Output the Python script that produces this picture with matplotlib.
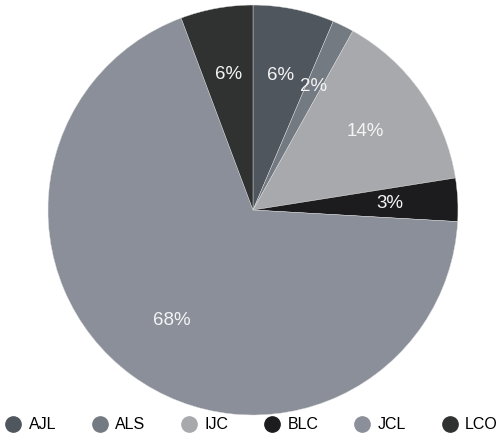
import matplotlib.pyplot as plt
from matplotlib.lines import Line2D

plt.rcParams['font.family'] = ['Liberation Sans', 'DejaVu Sans']

# share of each group, clockwise from 12 o'clock
groups = ['AJL', 'ALS', 'IJC', 'BLC', 'JCL', 'LCO']
shares = [6.4, 1.7, 14.4, 3.4, 68.4, 5.7]
colors = ['#50565e', '#737a82', '#a7a9ac', '#1c1c1e', '#8a8f99', '#2f3231']

fig = plt.figure(figsize=(4.99, 4.37), dpi=100)
ax = fig.add_axes([0.0962, 0.0503, 0.8216, 0.9382])

wedges, texts, autotexts = ax.pie(
    shares, colors=colors, startangle=90, counterclock=False,
    autopct=lambda p: '%d%%' % round(p), pctdistance=0.67,
    wedgeprops=dict(linewidth=0.3, edgecolor='#dddddd'),
    textprops=dict(color='#f4f4f4', fontsize=13.5))
ax.set_xlim(-1, 1)
ax.set_ylim(-1, 1)
ax.set_aspect('equal')

handles = [Line2D([], [], marker='o', linestyle='none', markersize=11,
                  markerfacecolor=c, markeredgecolor=c) for c in colors]
fig.legend(handles, groups, loc='lower center', bbox_to_anchor=(0.505, -0.022),
           ncol=6, frameon=False, fontsize=11.5, handletextpad=0.5,
           columnspacing=2.3, handlelength=0.9)

fig.savefig('out.png', dpi=100)
